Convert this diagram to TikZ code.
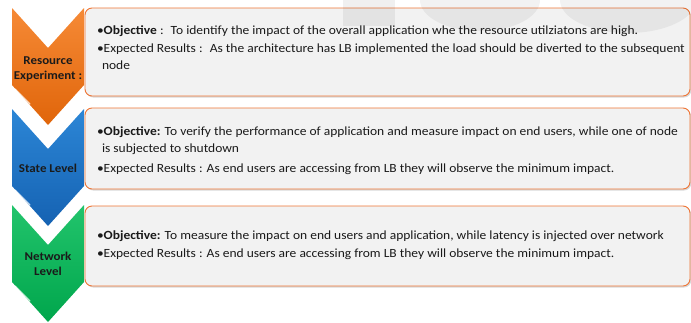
\documentclass[tikz,border=0pt]{standalone}
\usepackage{fontspec}
\setmainfont[FakeStretch=1.08]{Carlito}
\usetikzlibrary{shadows}
\definecolor{boxfill}{HTML}{F2F2F2}
\definecolor{boxline}{HTML}{EE7434}
\definecolor{orangetop}{HTML}{F68A36}
\definecolor{orangebot}{HTML}{E0650A}
\definecolor{bluetop}{HTML}{2C86D6}
\definecolor{bluebot}{HTML}{1562B2}
\definecolor{greentop}{HTML}{22C46C}
\definecolor{greenbot}{HTML}{00A64C}
\definecolor{bodytext}{HTML}{1A1A1A}

% chevron pointing down: #1 = top y, #2 = top colour, #3 = bottom colour
\newcommand{\stagechevron}[3]{%
  \shade[top color=#2, bottom color=#3]
    (12,#1) -- (48,#1+40) -- (84,#1) -- (84,#1+77) -- (48,#1+117) -- (12,#1+77) -- cycle;
  \draw[white, line width=1.3pt, opacity=0.75, line cap=round] (15,#1+81) -- (30,#1+96);
}

\begin{document}
\begin{tikzpicture}[
    x=1pt, y=-1pt,
    every node/.style={inner sep=0pt, outer sep=0pt},
    infobox/.style={draw=boxline, line width=0.9pt, fill=boxfill, rounded corners=7pt,
      minimum width=605pt, anchor=north west,
      drop shadow={shadow xshift=1.2pt, shadow yshift=-1.5pt, opacity=0.3}},
    boxtext/.style={anchor=west, align=left, text=bodytext, font=\fontsize{12.5}{17.5}\selectfont},
    chevlabel/.style={align=center, text=bodytext, font=\fontsize{12}{15.5}\selectfont\bfseries}
]
    \useasboundingbox (0,0) rectangle (691,322);

    % Chevrons
    \stagechevron{8}{orangetop}{orangebot}
    \stagechevron{109}{bluetop}{bluebot}
    \stagechevron{205}{greentop}{greenbot}

    % Boxes
    \node[infobox, minimum height=88pt] (resbox) at (85,8) {};
    \node[infobox, minimum height=81pt] (statebox) at (85,108) {};
    \node[infobox, minimum height=80pt] (netbox) at (85,206) {};

    % faint marks at the top
    \fill[black, opacity=0.06] (343,0) rectangle (395,26);
    \fill[black, opacity=0.05] (420,0) arc[start angle=180, end angle=0, x radius=60, y radius=31] -- cycle;
    \fill[black, opacity=0.05] (560,0) arc[start angle=180, end angle=0, x radius=68, y radius=33] -- cycle;

    % Labels
    \node[chevlabel] (reslabel) at (48,69) {Resource\\Experiment :};
    \node[chevlabel] (statelabel) at (48,168) {State Level};
    \node[chevlabel] (netlabel) at (48,264) {Network\\Level};

    % Texts
    \node[boxtext] (restext) at ([xshift=12pt, yshift=4pt]resbox.west)
      {•\textbf{Objective} :~ To identify the impact of the overall application whe the resource utilziatons are high.\\
       •Expected Results :~ As the architecture has LB implemented the load should be diverted to the subsequent\\
       \hspace*{5pt}node};
    \node[boxtext] (statetext) at ([xshift=12pt, yshift=-2pt]statebox.west)
      {•\textbf{Objective:} To verify the performance of application and measure impact on end users, while one of node\\
       \hspace*{5pt}is subjected to shutdown\\[2pt]
       •Expected Results : As end users are accessing from LB they will observe the minimum impact.};
    \node[boxtext] (nettext) at ([xshift=12pt, yshift=1pt]netbox.west)
      {•\textbf{Objective:} To measure the impact on end users and application, while latency is injected over network\\
       •Expected Results : As end users are accessing from LB they will observe the minimum impact.};
\end{tikzpicture}
\end{document}
